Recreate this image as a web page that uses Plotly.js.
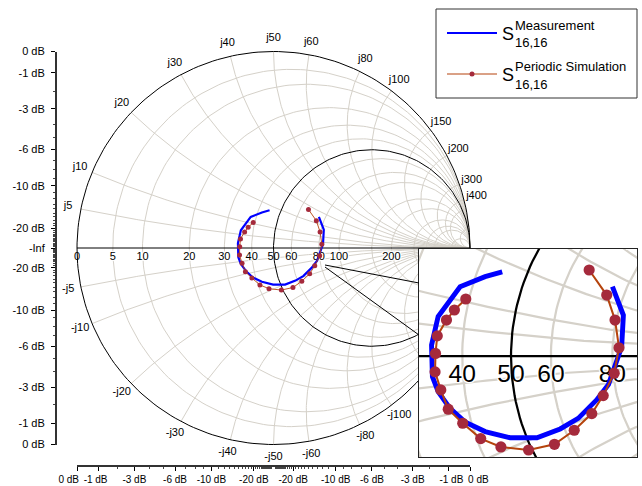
<!DOCTYPE html>
<html><head><meta charset="utf-8">
<script src="https://cdn.plot.ly/plotly-3.0.1.min.js"></script>
<style>html,body{margin:0;padding:0;background:#fff}</style>
</head><body><div id="chart" style="width:642px;height:486px"></div>
<script>
// ---------------- data (reflection coefficient) ----------------
const measRe = [0.231, 0.256, 0.252, 0.241, 0.222, 0.195, 0.153, 0.112, 0.059, -0.002, -0.059, -0.105, -0.139, -0.166, -0.179, -0.181, -0.166, -0.116, -0.059, -0.020];
const measIm = [0.158, 0.093, 0.021, -0.013, -0.065, -0.100, -0.142, -0.166, -0.186, -0.186, -0.172, -0.150, -0.119, -0.081, -0.047, 0.025, 0.090, 0.158, 0.181, 0.192];
const simRe = [0.178, 0.218, 0.237, 0.246, 0.235, 0.210, 0.184, 0.144, 0.099, 0.040, -0.023, -0.069, -0.110, -0.143, -0.160, -0.173, -0.172, -0.168, -0.147, -0.129, -0.103];
const simIm = [0.196, 0.139, 0.082, 0.019, -0.039, -0.090, -0.131, -0.169, -0.201, -0.214, -0.207, -0.188, -0.153, -0.121, -0.077, -0.036, 0.006, 0.046, 0.082, 0.105, 0.130];

// ---------------- chart grid / tick definitions ----------------
const Z0 = 50;
const resistanceGrid = [5, 10, 20, 30, 40, 60, 80, 100, 150, 200, 300, 400, 500, 1000];
const reactanceGrid = [5, 10, 20, 30, 40, 50, 60, 80, 100, 150, 200, 300, 400, 500, 1000];
const resistanceLabels = [0, 5, 10, 20, 30, 40, 50, 60, 80, 100, 200];
const reactanceLabels = [5, 10, 20, 30, 40, 50, 60, 80, 100, 150, 200, 300, 400];
const dbMajor = [0, -1, -3, -6, -10, -20];
const dbMinor = [-2, -4, -5, -7, -8, -9, -11, -12, -13, -14, -15, -16, -17, -18, -19,
  -21, -22, -23, -24, -25, -26, -27, -28, -29, -30, -32, -34, -36, -38, -40];

// ---------------- geometry (pixels) ----------------
const W = 642, H = 486;
const CX = 273.5, CY = 248, RAD = 196.5;           // main chart
const INS = {x0: 419, x1: 637, y0: 249, y1: 457, scale: 439, gx: 0.0387, gy: 0.007}; // inset
const FONT = 'Liberation Sans, Arial, sans-serif';
const mag = INS.scale / RAD;
const insRangeX = [INS.gx - (INS.x1 - INS.x0) / 2 / INS.scale, INS.gx + (INS.x1 - INS.x0) / 2 / INS.scale];
const insRangeY = [INS.gy - (INS.y1 - INS.y0) / 2 / INS.scale, INS.gy + (INS.y1 - INS.y0) / 2 / INS.scale];

function gam(r, x) { // normalized impedance -> gamma
  const den = (r + 1) * (r + 1) + x * x;
  return [(r * r + x * x - 1) / den, (2 * x) / den];
}
function rCircle(r) {
  const c = r / (1 + r), rad = 1 / (1 + r), xs = [], ys = [];
  for (let i = 0; i <= 240; i++) { const t = 2 * Math.PI * i / 240; xs.push(c + rad * Math.cos(t)); ys.push(rad * Math.sin(t)); }
  return [xs, ys];
}
function xArc(x) {
  const ax = Math.abs(x), rad = 1 / ax, p = gam(0, ax);
  let a0 = Math.atan2(p[1] - rad, p[0] - 1); if (a0 < 0) a0 += 2 * Math.PI;
  const a1 = 1.5 * Math.PI, xs = [], ys = [];
  for (let i = 0; i <= 160; i++) { const t = a0 + (a1 - a0) * i / 160; xs.push(1 + rad * Math.cos(t)); ys.push(Math.sign(x) * (rad + rad * Math.sin(t))); }
  return [xs, ys];
}
function joinPaths(list) {
  const X = [], Y = [];
  list.forEach(([xs, ys]) => { X.push(...xs, null); Y.push(...ys, null); });
  return [X, Y];
}

const gridR = joinPaths(resistanceGrid.map(v => rCircle(v / Z0)));
const gridX = joinPaths(reactanceGrid.flatMap(v => [xArc(v / Z0), xArc(-v / Z0)]));
const blackLines = joinPaths([rCircle(0), rCircle(1), [[-1, 1], [0, 0]]]);

function buildSmith(xa, ya, k, keep) {
  const tr = [];
  tr.push({x: gridR[0], y: gridR[1], xaxis: xa, yaxis: ya, mode: 'lines', line: {color: '#d5d1c9', width: 1 * k}, hoverinfo: 'skip', showlegend: false});
  tr.push({x: gridX[0], y: gridX[1], xaxis: xa, yaxis: ya, mode: 'lines', line: {color: '#d5d1c9', width: 1 * k}, hoverinfo: 'skip', showlegend: false});
  const off = 9 / RAD;
  const rl = resistanceLabels.filter(v => keep(gam(v / Z0, 0)[0], -off));
  tr.push({x: rl.map(v => gam(v / Z0, 0)[0]), y: rl.map(() => -off),
    text: rl.map(String), mode: 'text', textposition: 'middle center', xaxis: xa, yaxis: ya,
    textfont: {family: FONT, size: 11 * k, color: '#000', shadow: '1px 1px 0 #fff, -1px -1px 0 #fff, 1px -1px 0 #fff, -1px 1px 0 #fff, 0 0 3px #fff'},
    hoverinfo: 'skip', showlegend: false});
  const lx = [], ly = [], lt = [];
  reactanceLabels.forEach(v => {
    const p = gam(0, v / Z0), f = 1 + 13 / RAD;
    [[p[1] * f, 'j' + v], [-p[1] * f, '-j' + v]].forEach(([yy, t]) => {
      if (keep(p[0] * f, yy)) { lx.push(p[0] * f); ly.push(yy); lt.push(t); }
    });
  });
  if (lx.length) tr.push({x: lx, y: ly, text: lt, mode: 'text', textposition: 'middle center', xaxis: xa, yaxis: ya,
    textfont: {family: FONT, size: 11 * k, color: '#000'}, hoverinfo: 'skip', showlegend: false});
  tr.push({x: blackLines[0], y: blackLines[1], xaxis: xa, yaxis: ya, mode: 'lines', line: {color: '#000', width: 1 * k}, hoverinfo: 'skip', showlegend: false});
  tr.push({x: measRe, y: measIm, xaxis: xa, yaxis: ya, mode: 'lines', name: 'Measurement', line: {color: '#0000ff', width: 2.2 * k}, showlegend: false});
  tr.push({x: simRe, y: simIm, xaxis: xa, yaxis: ya, mode: 'lines+markers', name: 'Periodic Simulation',
    line: {color: '#b5430c', width: 0.9 * k}, marker: {color: '#a52a3c', size: 5 * k}, showlegend: false});
  return tr;
}

// main-chart labels hidden under the inset are left out; inset labels kept only inside it
const underInset = (x, y) => {
  const px = CX + x * RAD, py = CY - y * RAD;
  return px > INS.x0 - 12 && py > INS.y0 + 6;
};
const inInset = (x, y) => x > insRangeX[0] + 0.03 && x < insRangeX[1] - 0.03 && y > insRangeY[0] && y < insRangeY[1];
const traces = [...buildSmith('x', 'y', 1, (x, y) => !underInset(x, y)), ...buildSmith('x3', 'y3', mag, inInset)];
traces.push({x: [], y: [], xaxis: 'x4', yaxis: 'y2', showlegend: false});
traces.push({x: [], y: [], xaxis: 'x2', yaxis: 'y4', showlegend: false});

const dbToG = d => Math.pow(10, d / 20);
const leftVals = [], leftText = [];
dbMajor.forEach(d => { leftVals.push(dbToG(d)); leftText.push(d + ' dB'); });
leftVals.push(0); leftText.push('-Inf');
dbMajor.slice().reverse().forEach(d => { leftVals.push(-dbToG(d)); leftText.push(d + ' dB'); });
const minorVals = [...dbMinor.map(dbToG), ...dbMinor.map(d => -dbToG(d))];
// bottom axis labels: outermost two pushed outward to avoid collisions
const pad = n => '\u00a0'.repeat(n);
const botShift = [6, 2, 0, 0, 0, 0];
const botVals = [], botText = [];
dbMajor.forEach((d, i) => { botVals.push(-dbToG(d)); botText.push(d + ' dB' + pad(botShift[i])); });
dbMajor.slice().reverse().forEach((d, i) => { botVals.push(dbToG(d)); botText.push(pad(botShift[dbMajor.length - 1 - i]) + d + ' dB'); });

const px2fx = p => p / W, py2fy = p => 1 - p / H;
const layout = {
  width: W, height: H, margin: {l: 0, r: 0, t: 0, b: 0},
  paper_bgcolor: '#fff', plot_bgcolor: '#fff', showlegend: false,
  font: {family: FONT, color: '#000'},
  xaxis: {range: [-CX / RAD, (W - CX) / RAD], visible: false, fixedrange: true},
  yaxis: {range: [-(H - CY) / RAD, CY / RAD], visible: false, fixedrange: true},
  xaxis3: {domain: [px2fx(INS.x0), px2fx(INS.x1)], anchor: 'y3', range: insRangeX,
    showgrid: false, zeroline: false, showticklabels: false, ticks: '', showline: true, mirror: true, linecolor: '#222', linewidth: 1},
  yaxis3: {domain: [py2fy(INS.y1), py2fy(INS.y0)], anchor: 'x3', range: insRangeY,
    showgrid: false, zeroline: false, showticklabels: false, ticks: '', showline: true, mirror: true, linecolor: '#222', linewidth: 1},
  xaxis4: {domain: [px2fx(56.5), px2fx(57.5)], anchor: 'y2', visible: false, range: [0, 1]},
  yaxis2: {domain: [py2fy(CY + RAD), py2fy(CY - RAD)], anchor: 'x4', side: 'left', range: [-1, 1],
    tickmode: 'array', tickvals: leftVals, ticktext: leftText, ticks: 'outside', ticklen: 4, tickcolor: '#000',
    ticklabelstandoff: 4,
    showline: true, linecolor: '#333', linewidth: 1.5, showgrid: false, zeroline: false,
    tickfont: {family: FONT, size: 11, color: '#000'},
    minor: {tickmode: 'array', tickvals: minorVals, ticks: 'outside', ticklen: 2, tickcolor: '#444', showgrid: false}},
  yaxis4: {domain: [py2fy(465), py2fy(464)], anchor: 'x2', visible: false, range: [0, 1]},
  xaxis2: {domain: [px2fx(CX - RAD), px2fx(CX + RAD)], anchor: 'y4', side: 'bottom', range: [-1, 1],
    tickmode: 'array', tickvals: botVals, ticktext: botText, ticks: 'outside', ticklen: 4, tickcolor: '#000', tickangle: 0,
    showline: true, linecolor: '#333', linewidth: 1.5, showgrid: false, zeroline: false,
    tickfont: {family: FONT, size: 10, color: '#000'},
    minor: {tickmode: 'array', tickvals: minorVals, ticks: 'outside', ticklen: 2, tickcolor: '#444', showgrid: false}},
  shapes: [
    // zoom connectors (main coords)
    {type: 'line', xref: 'x', yref: 'y', x0: (325 - CX) / RAD, y0: (CY - 265) / RAD, x1: (INS.x0 - CX) / RAD, y1: (CY - 283) / RAD, line: {color: '#000', width: 1}},
    {type: 'line', xref: 'x', yref: 'y', x0: (325 - CX) / RAD, y0: (CY - 267) / RAD, x1: (INS.x0 - CX) / RAD, y1: (CY - 335) / RAD, line: {color: '#000', width: 1}},
    // legend
    {type: 'rect', xref: 'paper', yref: 'paper', x0: px2fx(436), x1: px2fx(637), y0: py2fy(98), y1: py2fy(9), line: {color: '#333', width: 1}, fillcolor: '#fff', layer: 'above'},
    {type: 'line', xref: 'paper', yref: 'paper', x0: px2fx(447), x1: px2fx(497), y0: py2fy(33), y1: py2fy(33), line: {color: '#0000ff', width: 2}, layer: 'above'},
    {type: 'line', xref: 'paper', yref: 'paper', x0: px2fx(447), x1: px2fx(497), y0: py2fy(74), y1: py2fy(74), line: {color: '#b5430c', width: 1}, layer: 'above'},
    {type: 'circle', xref: 'paper', yref: 'paper', x0: px2fx(469.5), x1: px2fx(474.5), y0: py2fy(76.5), y1: py2fy(71.5), line: {width: 0}, fillcolor: '#a52a3c', layer: 'above'}
  ],
  annotations: [
    {xref: 'paper', yref: 'paper', x: px2fx(500), y: py2fy(34), xanchor: 'left', yanchor: 'middle', text: 'S', showarrow: false, font: {family: FONT, size: 18}},
    {xref: 'paper', yref: 'paper', x: px2fx(513), y: py2fy(25), xanchor: 'left', yanchor: 'middle', text: 'Measurement', showarrow: false, font: {family: FONT, size: 13}},
    {xref: 'paper', yref: 'paper', x: px2fx(513), y: py2fy(43), xanchor: 'left', yanchor: 'middle', text: '16,16', showarrow: false, font: {family: FONT, size: 13}},
    {xref: 'paper', yref: 'paper', x: px2fx(500), y: py2fy(75), xanchor: 'left', yanchor: 'middle', text: 'S', showarrow: false, font: {family: FONT, size: 18}},
    {xref: 'paper', yref: 'paper', x: px2fx(513), y: py2fy(67), xanchor: 'left', yanchor: 'middle', text: 'Periodic Simulation', showarrow: false, font: {family: FONT, size: 13}},
    {xref: 'paper', yref: 'paper', x: px2fx(513), y: py2fy(84), xanchor: 'left', yanchor: 'middle', text: '16,16', showarrow: false, font: {family: FONT, size: 13}}
  ]
};
Plotly.newPlot('chart', traces, layout, {staticPlot: true, displayModeBar: false});
</script></body></html>
